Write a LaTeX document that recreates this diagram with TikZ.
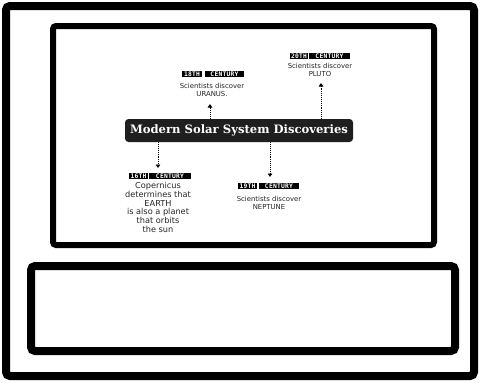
\documentclass[tikz,border=0pt]{standalone}
\usepackage{fontspec}
\setmainfont{DejaVu Sans}
\newfontfamily\titlefont{DejaVu Serif}
\newfontfamily\badgefont[LetterSpace=4]{DejaVu Sans Mono}
\usetikzlibrary{arrows.meta}
\begin{document}
\begin{tikzpicture}[x=1pt,y=-1pt,
  frame/.style={draw=black, line width=8pt, rounded corners=4pt},
  panel/.style={draw=black, line width=6pt, rounded corners=3pt},
  titlebox/.style={fill=black!88, text=white, rounded corners=3.5pt,
    font=\titlefont\bfseries\fontsize{11.6}{13}\selectfont,
    minimum width=228pt, minimum height=23pt, inner sep=0pt},
  badge/.style={fill=black, text=white, font=\badgefont\bfseries\fontsize{6.3}{6.3}\selectfont,
    minimum height=6.5pt, inner sep=0pt},
  info/.style={font=\fontsize{6.9}{8}\selectfont, align=center, text=black!85, inner sep=0pt},
  infobig/.style={font=\fontsize{8.2}{8.7}\selectfont, align=center, text=black!85, inner sep=0pt},
  link/.style={densely dotted, line width=0.9pt, -{Triangle[length=3.5pt,width=4.5pt]}}
]
\useasboundingbox (0,0) rectangle (480,383);
\fill[white] (0,0) rectangle (480,383);
% frames
\draw[frame] (6,6) rectangle (474,376);
\draw[panel] (53,26) rectangle (434,245);
\draw[frame] (31,266) rectangle (455,351);
% title
\node[titlebox] (title) at (239,130.5) {Modern Solar System Discoveries};
% Uranus (18th century)
\node[badge, minimum width=20pt] (ub1) at (192,74) {18TH};
\node[badge, minimum width=39pt] (ub2) at (224.5,74) {CENTURY};
\node[info] (ut) at (212,89.5) {Scientists discover\\URANUS.};
\coordinate (ua) at (210,104);
\draw[link] (title.north -| ua) -- (ua);
% Pluto (20th century)
\node[badge, minimum width=18pt] (pb1) at (299,56) {20TH};
\node[badge, minimum width=41pt] (pb2) at (329.5,56) {CENTURY};
\node[info] (pt) at (320,69.5) {Scientists discover\\PLUTO};
\coordinate (pa) at (321,83);
\draw[link] (title.north -| pa) -- (pa);
% Neptune (19th century)
\node[badge, minimum width=19pt] (nb1) at (247.5,186) {19TH};
\node[badge, minimum width=40pt] (nb2) at (279,186) {CENTURY};
\node[info] (nt) at (269,202.5) {Scientists discover\\NEPTUNE};
\coordinate (na) at (270,177);
\draw[link] (title.south -| na) -- (na);
% Copernicus (16th century)
\node[badge, minimum width=19pt] (cb1) at (138.5,176) {16TH};
\node[badge, minimum width=42pt] (cb2) at (170,176) {CENTURY};
\node[infobig] (ct) at (158,207.5) {Copernicus\\determines that\\EARTH\\is also a planet\\that orbits\\the sun};
\coordinate (ca) at (158,168);
\draw[link] (title.south -| ca) -- (ca);
\end{tikzpicture}
\end{document}
